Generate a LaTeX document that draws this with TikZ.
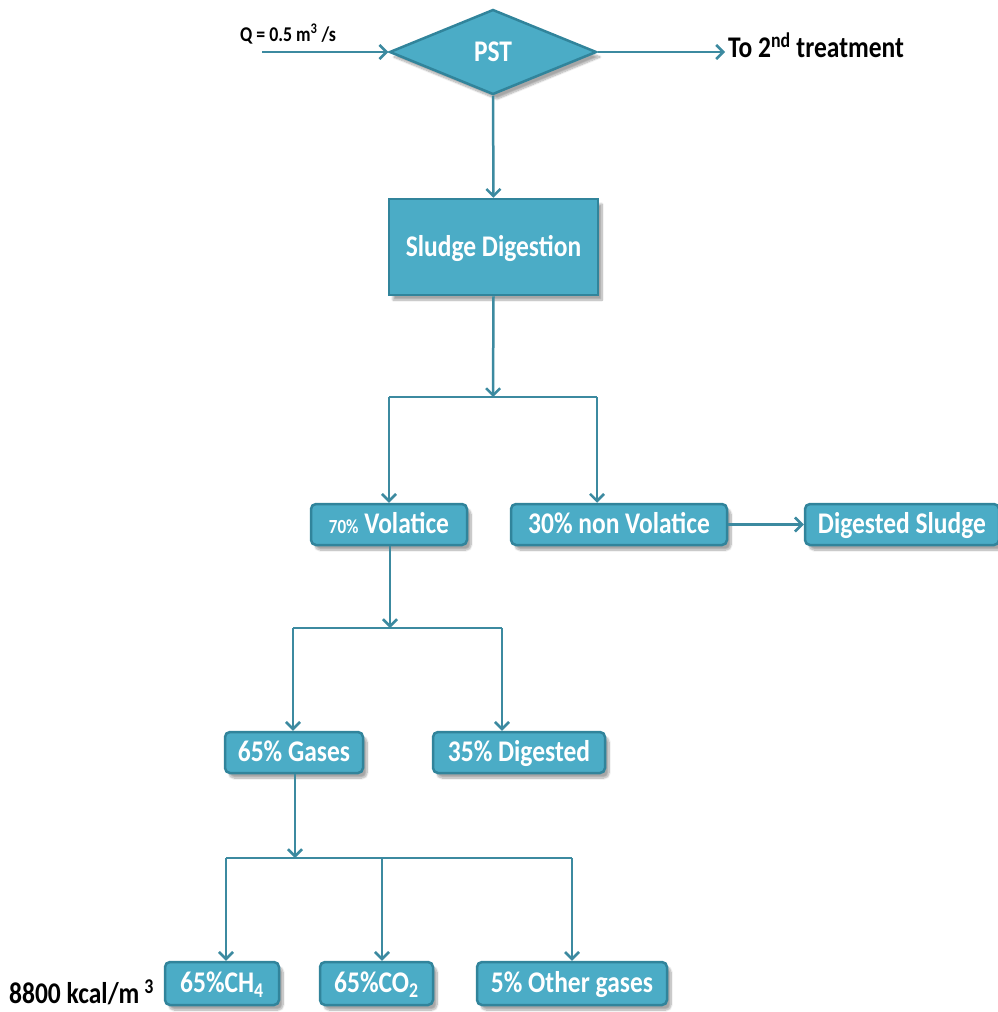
\documentclass[tikz,border=0pt]{standalone}
\usepackage{fontspec}
\setmainfont{Carlito}[FakeStretch=0.85]
\usetikzlibrary{shapes.geometric,arrows.meta,shadows.blur}
\definecolor{boxfill}{HTML}{4BACC6}
\definecolor{boxline}{HTML}{31849B}
\definecolor{lncol}{HTML}{3C8AA0}
\tikzset{
  ln/.style={draw=lncol,line width=2.5pt},
  arr/.style={ln,-{Straight Barb[length=7pt,width=14pt,line width=2.5pt]}},
  shad/.style={blur shadow={shadow xshift=4pt,shadow yshift=-5pt,shadow blur steps=10,shadow opacity=35}},
  sqbox/.style={rectangle,fill=boxfill,draw=boxline,line width=2.5pt,shad,text=white,font=\bfseries\fontsize{30}{32}\selectfont,inner sep=0pt,text height=22pt,text depth=4pt},
  rbox/.style={sqbox,rounded corners=5pt,minimum height=41pt},
  lbl/.style={text=black,font=\bfseries\fontsize{30}{32}\selectfont,inner sep=0pt},
}
\begin{document}
\begin{tikzpicture}[x=1pt,y=-1pt]
\useasboundingbox (0,0) rectangle (997,1012);
% nodes
\node[diamond,aspect=2.4,fill=boxfill,draw=boxline,line width=2.5pt,shad,text=white,font=\bfseries\fontsize{30}{32}\selectfont,inner sep=0pt,text height=22pt,text depth=4pt,minimum width=207pt,minimum height=85pt] (pst) at (493,52) {PST};
\node[sqbox,minimum width=209pt,minimum height=96pt] (sd) at (493.5,247) {Sludge Digestion};
\node[rbox,minimum width=156pt] (vol) at (389,524.5) {{\fontsize{20}{22}\selectfont 70\%} Volatice};
\node[rbox,minimum width=216pt] (nvol) at (619,524.5) {30\% non Volatice};
\node[rbox,minimum width=194pt] (ds) at (902,524.5) {Digested Sludge};
\node[rbox,minimum width=138pt] (gas) at (294,752.5) {65\% Gases};
\node[rbox,minimum width=172pt] (dig) at (519,752.5) {35\% Digested};
\node[rbox,minimum width=114pt,minimum height=43pt] (ch4) at (222,983.5) {65\%CH\textsubscript{4}};
\node[rbox,minimum width=113pt,minimum height=43pt] (co2) at (376.5,983.5) {65\%CO\textsubscript{2}};
\node[rbox,minimum width=190pt,minimum height=43pt] (oth) at (572,983.5) {5\% Other gases};
% labels
\node[lbl,font=\bfseries\fontsize{21}{23}\selectfont] (qlbl) at (288,34) {Q = 0.5 m\textsuperscript{3} /s};
\node[lbl,anchor=base west] (to2) at (728,57) {To 2\textsuperscript{nd} treatment};
\node[lbl,anchor=base west] (kcal) at (9,1003) {8800 kcal/m\,\textsuperscript{3}};
% coordinates
\coordinate (qin) at (262,52);
\coordinate (tout) at (725,52);
\coordinate (j1) at (493,397);
\coordinate (j1l) at (389,397);
\coordinate (j1r) at (597,397);
\coordinate (j2) at (390,628);
\coordinate (j2l) at (293,628);
\coordinate (j2r) at (502,628);
\coordinate (j3) at (295,858);
\coordinate (j3l) at (226,858);
\coordinate (j3m) at (382,858);
\coordinate (j3r) at (572,858);
% connectors
\draw[arr] (qin) -- (pst.west);
\draw[arr] (pst.east) -- (tout);
\draw[arr] (pst.south) -- (sd.north);
\draw[arr] (sd.south) -- (j1);
\draw[ln] (j1l) -- (j1r);
\draw[arr] (j1l) -- (j1l |- vol.north);
\draw[arr] (j1r) -- (j1r |- nvol.north);
\draw[arr] (nvol.east) -- (ds.west);
\draw[arr] (vol.south -| j2) -- (j2);
\draw[ln] (j2l) -- (j2r);
\draw[arr] (j2l) -- (j2l |- gas.north);
\draw[arr] (j2r) -- (j2r |- dig.north);
\draw[arr] (gas.south -| j3) -- (j3);
\draw[ln] (j3l) -- (j3r);
\draw[arr] (j3l) -- (j3l |- ch4.north);
\draw[arr] (j3m) -- (j3m |- co2.north);
\draw[arr] (j3r) -- (j3r |- oth.north);
\end{tikzpicture}
\end{document}
